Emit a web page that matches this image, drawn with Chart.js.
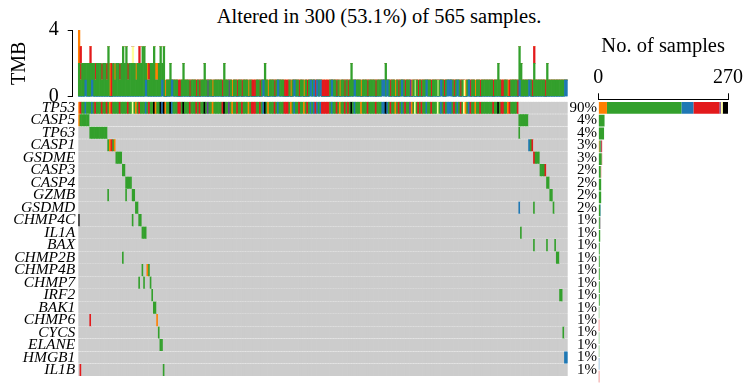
<!DOCTYPE html>
<html>
<head>
<meta charset="utf-8">
<script src="https://cdn.jsdelivr.net/npm/chart.js@4/dist/chart.umd.min.js"></script>
<style>
  body { margin: 0; background: #fff; }
  #wrap { position: relative; width: 747px; height: 387px; overflow: hidden; font-family: "Liberation Serif", "DejaVu Serif", serif; }
  #wrap canvas { position: absolute; left: 0; top: 0; }
  #title { position: absolute; left: 0; top: 5.5px; width: 758px; text-align: center; font-size: 20.5px; line-height: 20.5px; color: #000; }
</style>
</head>
<body>
<div id="wrap">
  <div id="title">Altered in 300 (53.1%) of 565 samples.</div>
  <canvas id="tmbChart" width="747" height="387"></canvas>
  <canvas id="gridChart" width="747" height="387"></canvas>
  <canvas id="countChart" width="747" height="387"></canvas>
</div>
<script>
// altered samples, in plot order
const nSamples = 300;
const genes = ["TP53", "CASP5", "TP63", "CASP1", "GSDME", "CASP3", "CASP4", "GZMB", "GSDMD", "CHMP4C", "IL1A",
  "BAX", "CHMP2B", "CHMP4B", "CHMP7", "IRF2", "BAK1", "CHMP6", "CYCS", "ELANE", "HMGB1", "IL1B"];
const percentLabels = ["90%", "4%", "4%", "3%", "3%", "2%", "2%", "2%", "2%", "1%", "1%",
  "1%", "1%", "1%", "1%", "1%", "1%", "1%", "1%", "1%", "1%", "1%"];

// S splice site, M missense, D frame shift del, N nonsense, I frame shift ins, F in frame del, X multi hit
// "a-bT" = samples a..b carry type T
const geneHits = [
  "0-269M",
  "0S 1-6M 270-275M",
  "7-17M 270M",
  "18M 19S 20N 21M 22S 276D 277M 278N",
  "23-26M 279N 280-282M",
  "27-28M 283-285M 286N",
  "29-32M 287-288M",
  "18M 29M 33-34M 289-290M",
  "35-36M 270D 279M 291M",
  "0X 33M 37-38M",
  "39-41M 271M",
  "279M 287M 292M",
  "27M 293-294M",
  "39M 42S 43M",
  "37M 40M 44M",
  "45M 295-296M",
  "46-47M",
  "7N 48S",
  "49M 297M",
  "50-51M",
  "298-299D",
  "1N 52M"
];

// TP53 samples that are not missense
const tp53Splice = [0, 19, 35, 47, 53, 82, 94, 104, 116, 130, 138, 160, 173, 194, 204, 237, 243, 263];
const tp53Nonsense = [1, 10, 14, 17, 20, 25, 30, 37, 43, 61, 62, 68, 72, 74, 88, 97, 100, 106, 107, 108, 111, 120,
  126, 127, 128, 135, 140, 145, 149, 150, 151, 152, 153, 158, 163, 165, 177, 182, 191, 196, 200, 208, 210, 216,
  224, 230, 234, 240, 246, 254, 259, 260, 264, 269];
const tp53FrameDel = [4, 8, 41, 51, 57, 113, 122, 132, 142, 144, 146, 148, 155, 169, 186, 187, 189, 198, 213, 222,
  226, 227, 228, 232, 239];
const tp53FrameIns = [79, 92, 203];
const tp53InFrameDel = [33, 206, 220, 236];
const tp53Multi = [46, 50, 52, 56, 64, 77, 89, 114, 167, 188, 257];

const tmbTicks = [0, 4];
const countTicks = [0, 270];

// styles
const typeCodes = ["S", "M", "D", "N", "I", "F", "X"];
const typeColors = ["#FF7F00", "#33A02C", "#1F78B4", "#E31A1C", "#6A3D9A", "#FFFF99", "#000000"];
const tmbOrder = ["D", "M", "F", "I", "N", "S"];
const bgGray = "#CCCCCC";
const font = "'Liberation Serif', 'DejaVu Serif', serif";

function colorOf(t) {
  return typeColors[typeCodes.indexOf(t)];
}

function parseHits(spec) {
  const out = [];
  spec.split(" ").forEach((tok) => {
    const m = tok.match(/^(\d+)(?:-(\d+))?([A-Z])$/);
    const a = +m[1], b = m[2] ? +m[2] : a;
    for (let c = a; c <= b; c++) out.push([c, m[3]]);
  });
  return out;
}

const cells = genes.map(() => new Array(nSamples).fill(null));
geneHits.forEach((spec, g) => {
  parseHits(spec).forEach(([c, t]) => { cells[g][c] = t; });
});
[[tp53Splice, "S"], [tp53Nonsense, "N"], [tp53FrameDel, "D"], [tp53FrameIns, "I"], [tp53InFrameDel, "F"], [tp53Multi, "X"]]
  .forEach(([cols, t]) => cols.forEach((c) => { cells[0][c] = t; }));

// per-sample mutation counts by type (a multi hit counts as two missense)
const tmbCounts = tmbOrder.map(() => new Array(nSamples).fill(0));
cells.forEach((row) => row.forEach((t, c) => {
  if (!t) return;
  if (t === "X") tmbCounts[tmbOrder.indexOf("M")][c] += 2;
  else tmbCounts[tmbOrder.indexOf(t)][c] += 1;
}));

// per-gene sample counts by type
const geneCounts = cells.map((row) => typeCodes.map((t) => row.filter((v) => v === t).length));

const common = {
  responsive: false,
  animation: false,
  events: [],
  plugins: { legend: { display: false }, tooltip: { enabled: false } },
};

// top TMB bars
new Chart(document.getElementById("tmbChart"), {
  type: "bar",
  data: {
    datasets: tmbOrder.map((t, k) => ({
      label: t,
      data: tmbCounts[k].map((v, c) => ({ x: c, y: v })),
      backgroundColor: colorOf(t),
      borderWidth: 0,
      barPercentage: 1,
      categoryPercentage: 1,
    })),
  },
  options: {
    ...common,
    layout: { padding: { left: 0, right: 179.3, top: 30, bottom: 290.3 } },
    scales: {
      x: { type: "linear", min: -3.93, max: 299.5, offset: false, stacked: true, display: false },
      y: {
        stacked: true, min: 0, max: 4,
        afterBuildTicks: (s) => { s.ticks = tmbTicks.map((v) => ({ value: v })); },
        afterFit: (s) => { s.width = 72.7; },
        ticks: { color: "#000", padding: 9, font: { family: font, size: 20 } },
        grid: { drawOnChartArea: false, tickLength: 5, color: "#000" },
        border: { display: true, color: "#000" },
        title: { display: true, text: "TMB", color: "#000", padding: { top: 8, bottom: 0 }, font: { family: font, size: 20 } },
      },
    },
  },
});

// oncoplot matrix
new Chart(document.getElementById("gridChart"), {
  type: "bar",
  data: {
    datasets: genes.map((g, gi) => ({
      label: g,
      data: cells[gi].map((t, c) => ({ x: c, y: [gi - 0.46, gi + 0.46] })),
      backgroundColor: cells[gi].map((t) => (t ? colorOf(t) : bgGray)),
      borderWidth: 0,
      grouped: false,
      barPercentage: 1,
      categoryPercentage: 1,
    })),
  },
  options: {
    ...common,
    layout: { padding: { left: 0, right: 150, top: 101.5, bottom: 4 } },
    scales: {
      x: { type: "linear", min: -0.5, max: nSamples - 0.5, offset: false, display: false },
      y: {
        type: "linear", reverse: true, min: -0.5, max: genes.length - 0.5,
        afterBuildTicks: (s) => { s.ticks = genes.map((g, i) => ({ value: i })); },
        afterFit: (s) => { s.width = 78.3; },
        ticks: {
          autoSkip: false, color: "#000", padding: 3,
          font: { family: font, size: 15.5, style: "italic", lineHeight: 1 },
          callback: (v, i) => genes[i],
        },
        grid: { display: false, drawTicks: false },
        border: { display: false },
      },
      y2: {
        type: "linear", position: "right", reverse: true, min: -0.5, max: genes.length - 0.5,
        afterBuildTicks: (s) => { s.ticks = genes.map((g, i) => ({ value: i })); },
        afterFit: (s) => { s.width = 29.3; },
        ticks: {
          autoSkip: false, color: "#000", padding: 0, crossAlign: "far",
          font: { family: font, size: 15, lineHeight: 1 },
          callback: (v, i) => percentLabels[i],
        },
        grid: { display: false, drawTicks: false },
        border: { display: false },
      },
    },
  },
});

// right side sample counts
new Chart(document.getElementById("countChart"), {
  type: "bar",
  data: {
    datasets: typeCodes.map((t, k) => ({
      label: t,
      data: genes.map((g, gi) => ({ x: geneCounts[gi][k], y: gi })),
      backgroundColor: typeColors[k],
      borderWidth: 0,
      barPercentage: 0.92,
      categoryPercentage: 1,
    })),
  },
  options: {
    ...common,
    indexAxis: "y",
    layout: { padding: { left: 598.3, right: 16, top: 0, bottom: 4 } },
    scales: {
      x: {
        type: "linear", position: "top", min: 0, max: 270, stacked: true,
        afterBuildTicks: (s) => { s.ticks = countTicks.map((v) => ({ value: v })); },
        afterFit: (s) => { s.height = 99.3; },
        ticks: { color: "#000", padding: 4, font: { family: font, size: 20 } },
        grid: { drawOnChartArea: false, tickLength: 6, color: "#000" },
        border: { display: true, color: "#000" },
        title: { display: true, text: "No. of samples", color: "#000", padding: { top: 34.5, bottom: 0 }, font: { family: font, size: 20.5 } },
      },
      y: { type: "linear", reverse: true, min: -0.672, max: genes.length - 0.5, offset: false, stacked: true, display: false },
    },
  },
});
</script>
</body>
</html>
